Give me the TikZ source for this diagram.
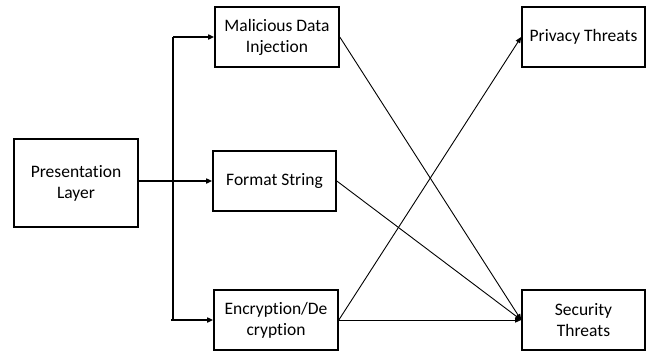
\documentclass[tikz,border=0pt]{standalone}
\usepackage{fontspec}
\setmainfont{Carlito}[Ligatures={NoCommon}]
\usetikzlibrary{arrows.meta}
\begin{document}
\begin{tikzpicture}[x=1pt,y=-1pt,
  box/.style={draw,line width=1.6pt,align=center,inner sep=0pt,
    font=\fontsize{17.5}{21}\selectfont},
  trunk/.style={line width=1.6pt},
  arr/.style={-{Triangle[length=6pt,width=5pt]}},
  thin/.style={line width=0.9pt}]
\useasboundingbox (0,0) rectangle (653,351);
\node[box,minimum width=124pt,minimum height=88pt] (pl) at (76,183) {Presentation\\Layer};
\node[box,minimum width=124pt,minimum height=60pt] (mdi) at (277,37) {Malicious Data\\Injection};
\node[box,minimum width=123pt,minimum height=60pt] (fs) at (274.5,181) {Format String};
\node[box,minimum width=124pt,minimum height=60pt] (ed) at (276,320) {Encryption/De\\cryption};
\node[box,minimum width=123pt,minimum height=60pt] (pt) at (583.5,37) {Privacy Threats};
\node[box,minimum width=123pt,minimum height=60pt] (st) at (583.5,320) {Security\\Threats};
\coordinate (ttop) at (173,37);
\coordinate (tbot) at (173,320);
\coordinate (tleft) at (171,320);
\draw[trunk] (ttop) -- (tbot);
\draw[trunk,arr] (ttop) -- (mdi.west);
\draw[trunk,arr] (tleft) -- (ed.west);
\draw[trunk,arr] (pl.east |- fs.west) -- (fs.west);
\draw[thin,arr] (mdi.east) -- (st.west);
\draw[thin,arr] (fs.east) -- (st.west);
\draw[thin,arr] (ed.east) -- (st.west);
\draw[thin,arr] (ed.east) -- (pt.west);
\end{tikzpicture}
\end{document}
